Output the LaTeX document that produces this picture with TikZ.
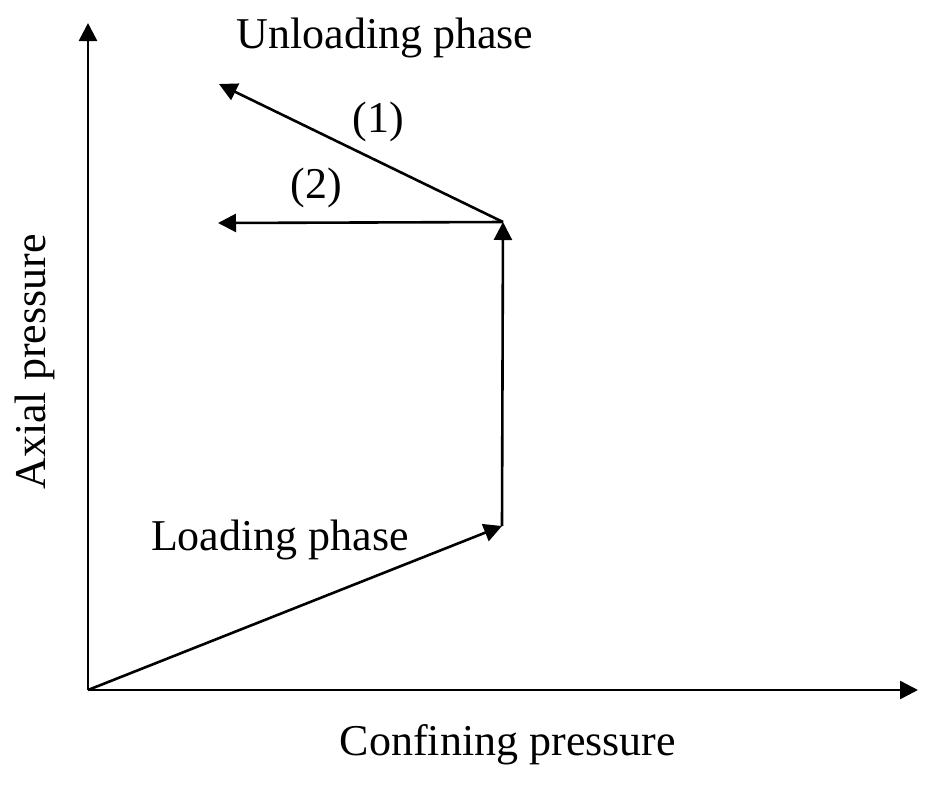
\documentclass[tikz,border=0pt]{standalone}
\usepackage{fontspec}
\setmainfont{Liberation Serif}
\usetikzlibrary{arrows.meta}

\tikzset{
    path/.style={line width=1.3pt, -{Triangle[length=9pt, width=9pt]}},
    lbl/.style={font=\fontsize{22}{26}\selectfont, inner sep=0pt}
}

\begin{document}
\begin{tikzpicture}[x=0.5pt, y=-0.5pt]
    \useasboundingbox (0,0) rectangle (933,784);
    % points of the stress path
    \coordinate (O) at (88,690);
    \coordinate (ytip) at (88,23);
    \coordinate (xtip) at (918,690);
    \coordinate (A) at (502,526);
    \coordinate (B) at (503,222);
    \coordinate (C1) at (219,84);
    \coordinate (C2) at (218,223);

    \draw[path] (O) -- (ytip);
    \draw[path] (O) -- (xtip);
    \draw[path] (O) -- (A);
    \draw[path] (A) -- (B);
    \draw[path] (B) -- (C1);
    \draw[path] (B) -- (C2);

    \node[lbl] (unload) at (385,38) {Unloading phase};
    \node[lbl] (p1) at (378,122) {(1)};
    \node[lbl] (p2) at (316,188) {(2)};
    \node[lbl] (load) at (280,540) {Loading phase};
    \node[lbl, rotate=90] (ylab) at (35,362) {Axial pressure};
    \node[lbl] (xlab) at (508,745) {Confining pressure};
\end{tikzpicture}
\end{document}
